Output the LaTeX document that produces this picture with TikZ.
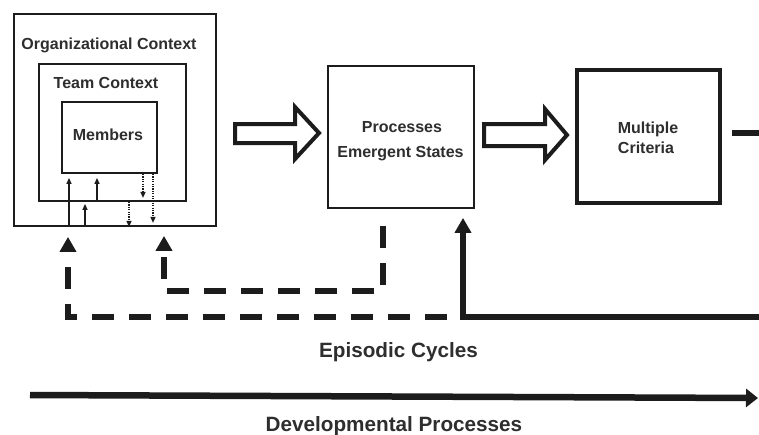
\documentclass[tikz,border=0pt]{standalone}
\usepackage{fontspec}
\setsansfont{Liberation Sans}
\usepackage{xcolor}
\usepackage{tikz}
\usetikzlibrary{arrows.meta,positioning,calc}
\definecolor{ink}{HTML}{1C1C1C}
\definecolor{txt}{HTML}{2E2E2E}

\begin{document}
\begin{tikzpicture}[x=1pt,y=-1pt,
    box/.style={draw=ink, line width=1.8pt, inner sep=0pt},
    lbl/.style={font=\fontsize{16}{19}\selectfont\sffamily\bfseries, text=txt,
                anchor=base, inner sep=0pt},
    biglbl/.style={font=\fontsize{20.7}{24}\selectfont\sffamily\bfseries, text=txt,
                anchor=base, inner sep=0pt},
    hollow/.style={draw=ink, line width=4pt, line join=miter, fill=white},
    thinarr/.style={draw=ink, line width=1.3pt, -{Triangle[length=6pt,width=5pt]}},
    dotarr/.style={thinarr, dash pattern=on 1.2pt off 1.2pt},
    fback/.style={draw=ink, line width=6pt, -{Triangle[length=15pt,width=16pt]}},
    dashfb/.style={fback, dash pattern=on 22pt off 15pt},
    devarr/.style={draw=ink, line width=6.5pt, -{Triangle[length=12pt,width=18pt]}}]
  \useasboundingbox (0,0) rectangle (759,434);
  \fill[white] (0,0) rectangle (759,434);

  % nested context boxes
  \node[box, minimum width=202pt, minimum height=212pt] (org) at (115,120) {};
  \node[box, minimum width=147pt, minimum height=137pt] (team) at (112.5,132.5) {};
  \node[box, minimum width=95pt, minimum height=71pt] (members) at (109.5,137.5) {};
  \node[lbl] (orglbl) at (109,49) {Organizational Context};
  \node[lbl] (teamlbl) at (106,88) {Team Context};
  \node[lbl] (memlbl) at (108,140) {Members};

  % processes and outcomes
  \node[box, minimum width=146pt, minimum height=142pt] (proc) at (401,137) {};
  \node[lbl] (proclbl) at (402,132) {Processes};
  \node[lbl] (emerglbl) at (400.5,157) {Emergent States};
  \node[box, line width=4.5pt, minimum width=143pt, minimum height=133pt] (crit) at (648.5,136.5) {};
  \node[lbl] (multlbl) at (648,133) {Multiple};
  \node[lbl] (critlbl) at (646,153.5) {Criteria};

  % hollow block arrows
  \draw[hollow] (235,124) -- (295,124) -- (295,107) -- (319,133) -- (295,159)
    -- (295,143) -- (235,143) -- cycle;
  \draw[hollow] (484,124) -- (545,124) -- (545,109) -- (567,135) -- (545,160)
    -- (545,146) -- (484,146) -- cycle;

  % cross-level arrows
  \draw[thinarr, shorten >=4pt] (org.south-|69,0) -- (members.south-|69,0);
  \draw[thinarr, shorten >=2pt] (org.south-|85,0) -- (team.south-|85,0);
  \draw[thinarr, shorten >=4pt] (team.south-|97,0) -- (members.south-|97,0);
  \draw[dotarr] (team.south-|129,0) -- (org.south-|129,0);
  \draw[dotarr, shorten >=4pt] (members.south-|143,0) -- (team.south-|143,0);
  \draw[dotarr, shorten >=4pt] (members.south-|153,0) -- (org.south-|153,0);

  % feedback loops
  \coordinate (rightup) at (764,133);
  \coordinate (rightlow) at (764,317);
  \coordinate (fbsplit) at (447,317);
  \coordinate (innercorner) at (164,291);
  \draw[ink, line width=6pt] (rightup-|732,0) -- (rightup);
  \draw[fback, shorten >=9pt] (rightlow) -| (proc.south-|463,0);
  \draw[dashfb, shorten >=10pt] (fbsplit) -| (org.south-|68,0);
  \draw[dashfb, shorten <=17pt, shorten >=9pt] (proc.south-|383,0) |- (innercorner)
    -- (org.south-|164,0);
  \node[biglbl] (epilbl) at (398.5,357) {Episodic Cycles};

  % development over time
  \coordinate (devstart) at (30,395);
  \coordinate (devend) at (758,398);
  \draw[devarr] (devstart) -- (devend);
  \node[biglbl] (devlbl) at (394,431) {Developmental Processes};
\end{tikzpicture}
\end{document}
